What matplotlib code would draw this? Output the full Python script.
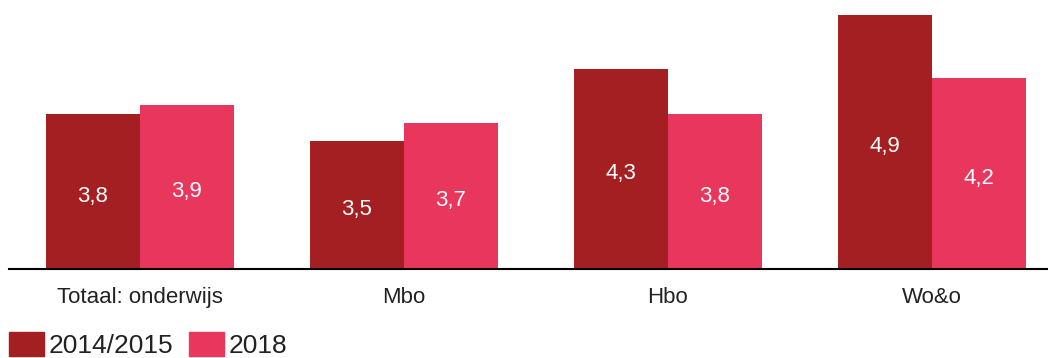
import numpy as np
import matplotlib.pyplot as plt
from matplotlib.patches import Patch

plt.rcParams['font.family'] = ['Liberation Sans', 'DejaVu Sans']

categories = ['Totaal: onderwijs', 'Mbo', 'Hbo', 'Wo&o']
jaren = ['2014/2015', '2018']
waarden_2014 = [3.8, 3.5, 4.3, 4.9]
waarden_2018 = [3.9, 3.7, 3.8, 4.2]
kleuren = ['#a31f22', '#e8365c']

fig = plt.figure(figsize=(10.48, 3.58), dpi=100)
ax = fig.add_axes([0.0086, 0.2486, 0.9914, 0.7514])

x = np.arange(len(categories))
w = 0.356
ondergrens = 2.08

for i, (reeks, kleur) in enumerate(zip([waarden_2014, waarden_2018], kleuren)):
    pos = x + (i - 0.5) * w
    ax.bar(pos, np.array(reeks) - ondergrens, width=w, bottom=ondergrens,
           color=kleur, linewidth=0)
    for p, v in zip(pos, reeks):
        ax.text(p, (ondergrens + v) / 2 - 0.05, str(v).replace('.', ','),
                ha='center', va='center', color='white', fontsize=16)

ax.set_xlim(-0.496, 3.44)
ax.set_ylim(ondergrens, 5.07)
ax.set_xticks(x)
ax.set_xticklabels(categories, fontsize=16, color='#222222')
ax.tick_params(axis='x', length=0, pad=13)
ax.set_yticks([])
for s in ['top', 'right', 'left']:
    ax.spines[s].set_visible(False)
ax.spines['bottom'].set_linewidth(1.5)
ax.spines['bottom'].set_color('black')

handles = [Patch(color=k, label=j) for k, j in zip(kleuren, jaren)]
fig.legend(handles=handles, loc='lower left', bbox_to_anchor=(0.009, 0.0),
           ncol=2, frameon=False, fontsize=19, handlelength=1.3,
           handleheight=1.0, handletextpad=0.2, columnspacing=0.6,
           borderaxespad=0, borderpad=0, labelcolor='#222222')

fig.savefig('out.png', dpi=100)
